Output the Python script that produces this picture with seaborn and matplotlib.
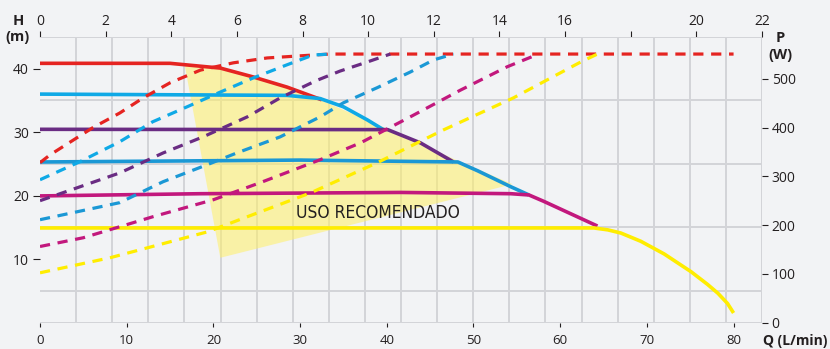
import numpy as np
import matplotlib.pyplot as plt
import seaborn as sns

# flow in L/min (bottom axis), head in m (left), power in W (right)
LPM_PER_GPM = 3.7854
Q_MAX = 22 * LPM_PER_GPM

# head curves (solid)
red_q = [0, 15.0, 20.8, 24.6, 28.5, 32.5]
red_h = [40.85, 40.85, 40.1, 38.7, 37.1, 35.1]
cyan_q = [0, 28.5, 32.3, 35.0, 37.8, 39.6]
cyan_h = [36.0, 35.8, 35.3, 34.0, 31.9, 30.4]
purple_q = [0, 40.1, 43.9, 47.7]
purple_h = [30.45, 30.4, 28.3, 25.3]
blue_q = [0, 30.0, 48.2, 50.5, 54.3, 56.4]
blue_h = [25.3, 25.6, 25.3, 23.9, 21.4, 20.1]
magenta_q = [0, 18.5, 41.6, 54.3, 56.4, 58.1, 64.3]
magenta_h = [19.95, 20.3, 20.5, 20.3, 20.1, 19.1, 15.2]
yellow_q = [0, 63.9, 65.5, 67.0, 69.3, 72.0, 75.1, 77.0, 78.2, 79.3, 80.0]
yellow_h = [14.9, 14.9, 14.6, 14.1, 12.8, 10.8, 8.0, 6.0, 4.6, 3.0, 1.5]

# power curves (dashed)
red_pq = [0, 1.15, 6.1, 9.2, 11.9, 15.0, 18.5, 22.3, 26.2, 31.5, 33.5, 80.0]
red_p = [328, 344, 400, 430, 461, 492, 518, 533, 543, 549, 551, 551]
cyan_pq = [0, 4.6, 9.2, 13.0, 17.0, 20.8, 24.6, 28.5, 31.5, 33.5]
cyan_p = [293, 330, 371, 412, 443, 473, 502, 529, 549, 551]
purple_pq = [0, 9.2, 14.2, 18.8, 23.9, 27.7, 31.8, 34.6, 37.8, 40.4]
purple_p = [250, 307, 348, 381, 422, 461, 496, 516, 535, 551]
blue_pq = [0, 9.2, 14.2, 19.3, 22.7, 27.7, 32.3, 35.0, 38.9, 42.7, 45.4, 47.7]
blue_p = [211, 246, 289, 324, 348, 381, 422, 451, 482, 514, 539, 551]
magenta_pq = [0, 5.0, 13.0, 20.0, 25.4, 32.3, 37.0, 42.7, 48.5, 53.9, 57.5]
magenta_p = [156, 174, 217, 252, 287, 334, 369, 422, 477, 525, 551]
yellow_pq = [0, 8.1, 19.3, 23.9, 31.2, 38.9, 46.5, 54.6, 58.5, 62.4, 64.3]
yellow_p = [102, 133, 186, 217, 266, 328, 395, 461, 498, 535, 551]

# recommended zone
zone_q = [16.7, 20.8, 24.6, 28.5, 32.3, 40.1, 47.7, 54.5, 20.8]
zone_h = [40.5, 40.0, 38.6, 37.0, 35.1, 30.5, 25.8, 21.8, 10.2]

h_ticks = [10, 20, 30, 40]
q_ticks = [0, 10, 20, 30, 40, 50, 60, 70, 80]
p_ticks = [0, 100, 200, 300, 400, 500]
gpm_ticks = [0, 2, 4, 6, 8, 10, 12, 14, 16, 18, 20, 22]
gpm_labels = ["0", "2", "4", "6", "8", "10", "12", "14", "16", "", "20", "22"]

RED = "#e52421"
CYAN = "#0fa9e6"
PURPLE = "#6a2c83"
BLUE = "#1b98d5"
MAGENTA = "#c2187d"
YELLOW = "#ffed00"
BG = "#f2f3f5"
TXT = "#231f20"

sns.set_theme(style="white")
plt.rcParams["font.family"] = ["Open Sans", "DejaVu Sans"]

fig = plt.figure(figsize=(8.3, 3.49), dpi=100, facecolor=BG)
ax = fig.add_axes([40 / 830, 26.5 / 349, 722 / 830, 285.5 / 349])
ax.set_facecolor(BG)
ax.set_xlim(0, Q_MAX)
ax.set_ylim(0, 45)

# background grid: 20 x 9 cells
ax.set_xticks(np.linspace(0, Q_MAX, 21), minor=True)
ax.set_yticks(np.arange(0, 46, 5), minor=True)
ax.grid(which="minor", color="#d3d4d8", lw=1.4)
ax.tick_params(which="minor", length=0)

ax.fill(zone_q, zone_h, color="#fff066", alpha=0.55, lw=0, zorder=1)
ax.text(39.0, 17.3, "USO RECOMENDADO", ha="center", va="center", fontsize=12.5,
        color=TXT, family="DejaVu Sans", fontstretch="condensed", zorder=2)

solid = [(red_q, red_h, RED), (cyan_q, cyan_h, CYAN), (purple_q, purple_h, PURPLE),
         (blue_q, blue_h, BLUE), (magenta_q, magenta_h, MAGENTA), (yellow_q, yellow_h, YELLOW)]
for q, h, c in solid:
    sns.lineplot(x=q, y=h, ax=ax, color=c, lw=2.6, sort=False, estimator=None,
                 solid_joinstyle="round", solid_capstyle="butt", zorder=3)

axP = ax.twinx()
axP.set_ylim(0, 586)
dashed = [(red_pq, red_p, RED), (cyan_pq, cyan_p, CYAN), (purple_pq, purple_p, PURPLE),
          (blue_pq, blue_p, BLUE), (magenta_pq, magenta_p, MAGENTA), (yellow_pq, yellow_p, YELLOW)]
for q, p, c in dashed:
    sns.lineplot(x=q, y=p, ax=axP, color=c, lw=2.3, sort=False, estimator=None,
                 linestyle=(0, (3.2, 2.4)), zorder=3)

for a in (ax, axP):
    for s in a.spines.values():
        s.set_visible(False)

ax.set_xticks(q_ticks)
ax.set_yticks(h_ticks)
ax.tick_params(axis="x", which="major", direction="out", length=3, width=0.8, pad=5,
               color=TXT, labelcolor=TXT, labelsize=9.5, bottom=True)
ax.tick_params(axis="y", which="major", direction="out", length=5, width=0.8, pad=3,
               color=TXT, labelcolor=TXT, labelsize=10, left=True)
axP.set_yticks(p_ticks)
axP.tick_params(axis="y", direction="out", length=4, width=0.8, pad=3,
                color=TXT, labelcolor=TXT, labelsize=10, right=True)
ax.set_xlabel("")
ax.set_ylabel("")
axP.set_ylabel("")

top = ax.secondary_xaxis("top", functions=(lambda q: q / LPM_PER_GPM, lambda g: g * LPM_PER_GPM))
top.set_xticks(gpm_ticks)
top.set_xticklabels(gpm_labels)
top.tick_params(direction="out", length=4, width=0.8, pad=2, color=TXT,
                labelcolor=TXT, labelsize=10)
for s in top.spines.values():
    s.set_visible(False)

fig.text(18 / 830, 1 - 21 / 349, "H", ha="center", va="center", fontsize=10.5,
         fontweight="bold", color=TXT)
fig.text(17 / 830, 1 - 37 / 349, "(m)", ha="center", va="center", fontsize=10.5,
         fontweight="bold", color=TXT)
fig.text(780 / 830, 1 - 38 / 349, "P", ha="center", va="center", fontsize=10.5,
         fontweight="bold", color=TXT)
fig.text(780 / 830, 1 - 55 / 349, "(W)", ha="center", va="center", fontsize=10.5,
         fontweight="bold", color=TXT)
fig.text(795 / 830, 1 - 341 / 349, "Q (L/min)", ha="center", va="center", fontsize=10,
         fontweight="bold", color=TXT)

fig.savefig("out.png", dpi=100, facecolor=BG)
